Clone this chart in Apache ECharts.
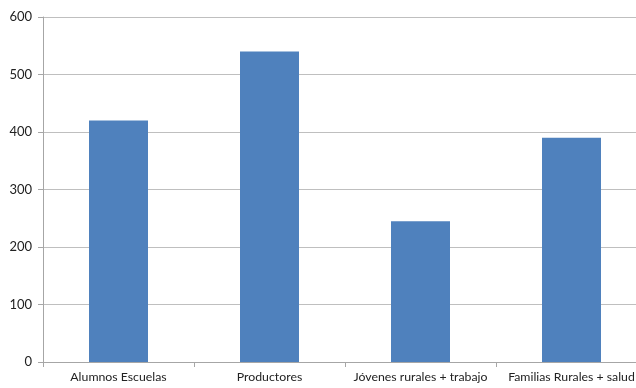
<!DOCTYPE html>
<html>
<head>
<meta charset="utf-8">
<script src="https://cdn.jsdelivr.net/npm/echarts@6/dist/echarts.min.js"></script>
<style>
    html, body { margin: 0; padding: 0; background: #fff; overflow: hidden; }
    #chart { width: 647px; height: 388px; }
</style>
</head>
<body>
<div id="chart"></div>
<script>
    const categories = ['Alumnos Escuelas', 'Productores', 'Jóvenes rurales + trabajo', 'Familias Rurales + salud']
    const values = [420, 540, 245, 390]

    // the plot area runs past the right edge of the window in the original
    const chart = echarts.init(document.getElementById('chart'))
    chart.setOption({
        animation: false,
        grid: { left: 43, right: 0, top: 17, bottom: 26 },
        xAxis: {
            type: 'category',
            data: categories,
            axisLine: { lineStyle: { color: '#a6a6a6' } },
            axisTick: { show: true, length: 5, lineStyle: { color: '#a6a6a6' } },
            axisLabel: { color: '#222', fontFamily: 'Lato', fontSize: 12.3, margin: 9, interval: 0 }
        },
        yAxis: {
            type: 'value',
            min: 0,
            max: 600,
            interval: 100,
            axisLine: { show: true, lineStyle: { color: '#a6a6a6' } },
            axisTick: { show: true, length: 5, lineStyle: { color: '#a6a6a6' } },
            axisLabel: { color: '#222', fontFamily: 'Lato', fontSize: 13, margin: 11 },
            splitLine: { lineStyle: { color: '#bfbfbf' } }
        },
        series: [{
            type: 'bar',
            data: values,
            barWidth: 59,
            itemStyle: { color: '#4f81bd' }
        }]
    })
</script>
</body>
</html>
